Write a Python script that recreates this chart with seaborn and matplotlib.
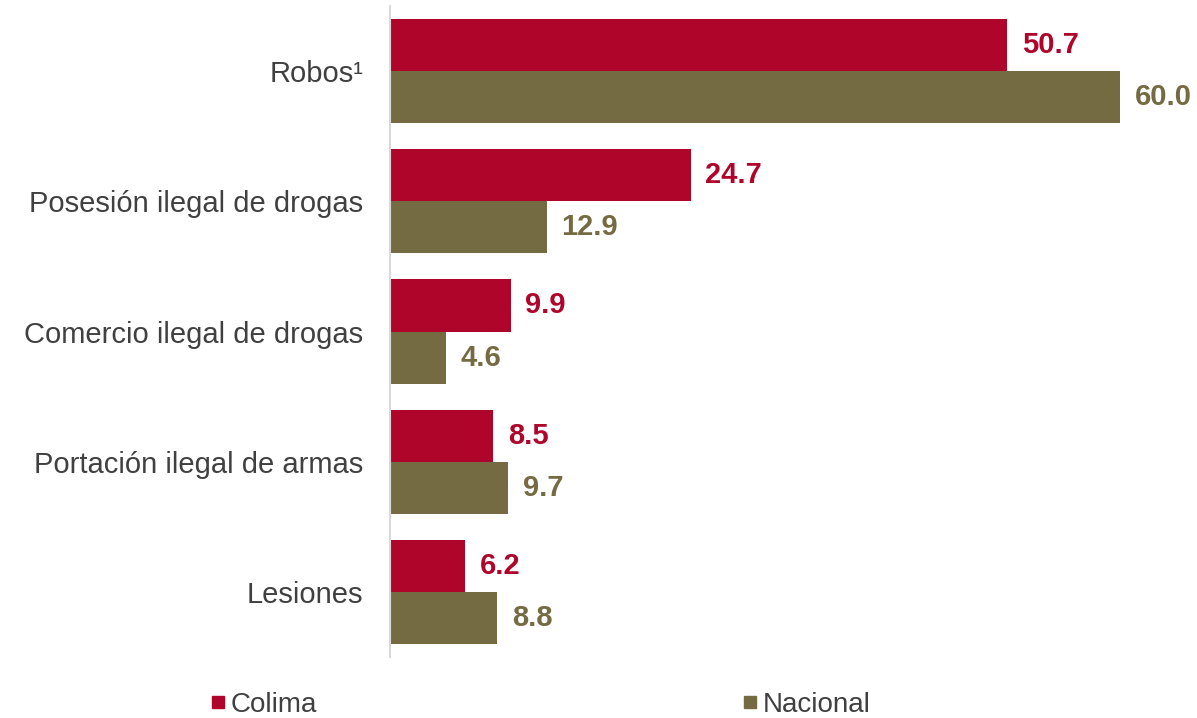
import pandas as pd
import matplotlib.pyplot as plt
import seaborn as sns
from matplotlib.lines import Line2D

categories = ['Robos¹', 'Posesión ilegal de drogas', 'Comercio ilegal de drogas',
              'Portación ilegal de armas', 'Lesiones']
colima = [50.7, 24.7, 9.9, 8.5, 6.2]
nacional = [60.0, 12.9, 4.6, 9.7, 8.8]
series = ['Colima', 'Nacional']
colors = ['#B0052B', '#756B42']

df = pd.DataFrame({
    'delito': categories * 2,
    'valor': colima + nacional,
    'serie': [series[0]] * len(categories) + [series[1]] * len(categories),
})

sns.set_style("white")
plt.rcParams['font.family'] = ['Liberation Sans', 'DejaVu Sans']

fig = plt.figure(figsize=(11.97, 7.18), dpi=100)
ax = fig.add_axes([390 / 1197, 1 - 657 / 718, 807 / 1197, 651 / 718])

sns.barplot(data=df, y='delito', x='valor', hue='serie', orient='h',
            palette=colors, width=0.8, saturation=1, linewidth=0, ax=ax, legend=False)

# value labels, coloured like their bars
for container, col in zip(ax.containers, colors):
    for bar in container:
        w = bar.get_width()
        ax.annotate(f'{w:.1f}', (w, bar.get_y() + bar.get_height() / 2),
                    xytext=(10.5, 0), textcoords='offset points',
                    va='center', ha='left', fontsize=21, fontweight='bold', color=col)

ax.set_xlim(0, 66.3)
ax.set_ylim(4.5, -0.5)
ax.set_xlabel('')
ax.set_ylabel('')
ax.set_xticks([])
ax.tick_params(axis='y', length=0, pad=19, labelsize=21, labelcolor='#404040')
for s in ['top', 'right', 'bottom']:
    ax.spines[s].set_visible(False)
ax.spines['left'].set_color('#D9D9D9')
ax.spines['left'].set_linewidth(1.5)

handles = [Line2D([], [], marker='s', linestyle='', color=c, markersize=8) for c in colors]
fig.legend(handles, series, loc='center left', bbox_to_anchor=(182 / 1197, 1 - 705 / 718),
           ncol=2, frameon=False, fontsize=20, handletextpad=0.05, columnspacing=15.2,
           handlelength=0.8, labelcolor='#404040')

plt.savefig('out.png', dpi=100)
